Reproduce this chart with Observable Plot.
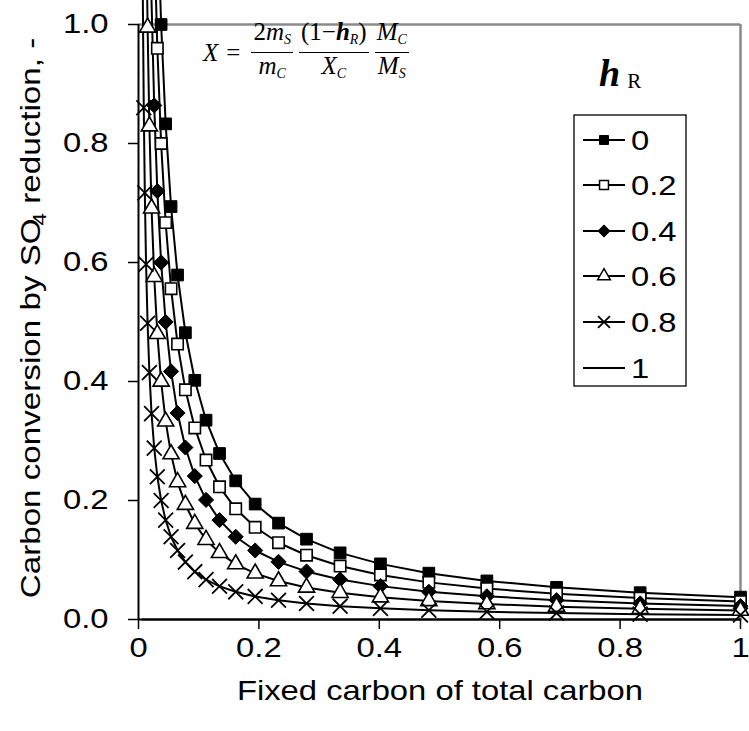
<!DOCTYPE html>
<html><head><meta charset="utf-8">
<script src="https://cdn.jsdelivr.net/npm/d3@7"></script>
<script src="https://cdn.jsdelivr.net/npm/@observablehq/plot@0.6"></script>
<style>
body{margin:0;background:#fff;}
#wrap{position:relative;width:749px;height:731px;overflow:hidden;background:#fff;}
#formula{position:absolute;left:203px;top:19px;font-family:"Liberation Serif","Times New Roman",serif;font-style:italic;font-size:25px;display:flex;align-items:center;color:#000;}
#formula .frac{display:inline-flex;flex-direction:column;align-items:center;margin:0 3px;}
#formula .num{border-bottom:1.4px solid #000;padding:0 2px;line-height:25px;}
#formula .den{line-height:25px;}
#formula sub{font-size:14px;vertical-align:-4px;}
#formula .up{font-style:normal;}
</style></head><body><div id="wrap"></div>
<script>
// Fixed carbon of total carbon (x values)
const fixedCarbon = [0.00607,0.00728,0.00874,0.01048,0.01258,0.0151,0.0181,0.0217,0.0261,0.0313,0.0376,0.0451,0.0541,0.0649,0.0779,0.0935,0.1122,0.1346,0.1615,0.1938,0.2326,0.2791,0.3349,0.4019,0.4823,0.5787,0.6944,0.8333,1];
// Carbon conversion by SO4 reduction for each eta_R
const etaLabels = ["0","0.2","0.4","0.6","0.8","1"];
const conv0  = [null,null,null,null,null,null,null,null,null,1.2,1.0,0.833,0.694,0.579,0.482,0.402,0.335,0.279,0.233,0.194,0.162,0.135,0.112,0.0935,0.0779,0.0649,0.0541,0.0451,0.0376];
const conv02 = [null,null,null,null,null,null,null,null,1.152,0.96,0.8,0.667,0.556,0.463,0.386,0.322,0.268,0.223,0.186,0.155,0.129,0.108,0.0898,0.0748,0.0624,0.052,0.0433,0.0361,0.0301];
const conv04 = [null,null,null,null,null,null,1.244,1.037,0.864,0.72,0.6,0.5,0.417,0.347,0.289,0.241,0.201,0.167,0.139,0.116,0.0969,0.0808,0.0673,0.0561,0.0467,0.039,0.0325,0.0271,0.0226];
const conv06 = [null,null,null,null,1.194,0.995,0.829,0.691,0.576,0.48,0.4,0.333,0.278,0.231,0.193,0.161,0.134,0.112,0.0931,0.0776,0.0646,0.0539,0.0449,0.0374,0.0311,0.0259,0.0216,0.018,0.015];
const conv08 = [1.238,1.032,0.86,0.717,0.597,0.498,0.415,0.346,0.288,0.24,0.2,0.167,0.139,0.116,0.0965,0.0804,0.067,0.0558,0.0465,0.0388,0.0323,0.0269,0.0224,0.0187,0.0156,0.013,0.0108,0.009,0.0075];
const conv1  = [0,0,0,0,0,0,0,0,0,0,0,0,0,0,0,0,0,0,0,0,0,0,0,0,0,0,0,0,0];
const xTicks = [0,0.2,0.4,0.6,0.8,1];
const yTicks = [0,0.2,0.4,0.6,0.8,1.0];

const seriesVals = [conv0, conv02, conv04, conv06, conv08, conv1];
const rows = [];
seriesVals.forEach((arr, s) => arr.forEach((v, i) => { if (v != null) rows.push({fc: fixedCarbon[i], conv: v, eta: etaLabels[s]}); }));
const shown = rows.filter(d => d.conv <= 1.0001);
const bySeries = k => shown.filter(d => d.eta === k);

const FONT = "Arial, 'Liberation Sans', Helvetica, sans-serif";
const STRETCH = 1.17;

const chart = Plot.plot({
  width: 749, height: 731,
  marginLeft: 138, marginRight: 9, marginTop: 24, marginBottom: 112,
  style: {fontFamily: FONT, color: "#000", background: "white", overflow: "visible"},
  x: {domain: [0, 1]},
  y: {domain: [0, 1]},
  marks: [
    Plot.ruleY([1], {stroke: "#8a8a8a", strokeWidth: 2.5}),
    Plot.ruleX([1], {stroke: "#8a8a8a", strokeWidth: 2.5}),
    Plot.axisX({ticks: xTicks, tickSize: 10, tickPadding: 8, tickFormat: d => String(d), label: null, fontSize: 28, strokeWidth: 1.5}),
    Plot.axisY({ticks: yTicks, tickSize: 10, tickPadding: 20, tickFormat: d3.format(".1f"), label: null, fontSize: 28, strokeWidth: 1.5}),
    Plot.ruleX([0], {stroke: "#000", strokeWidth: 2}),
    Plot.ruleY([0], {stroke: "#000", strokeWidth: 2}),
    Plot.line(rows, {x: "fc", y: "conv", z: "eta", stroke: "#000", strokeWidth: 2}),
    Plot.dot(bySeries("0"), {x: "fc", y: "conv", symbol: "square", r: 6.6, fill: "#000", stroke: "#000", strokeWidth: 1}),
    Plot.dot(bySeries("0.2"), {x: "fc", y: "conv", symbol: "square", r: 6.4, fill: "#fff", stroke: "#000", strokeWidth: 1.6}),
    Plot.dot(bySeries("0.4"), {x: "fc", y: "conv", symbol: "diamond2", r: 6.8, fill: "#000", stroke: "#000", strokeWidth: 1}),
    Plot.dot(bySeries("0.6"), {x: "fc", y: "conv", symbol: "triangle", r: 6.0, fill: "#fff", stroke: "#000", strokeWidth: 1.6}),
    Plot.dot(bySeries("0.8"), {x: "fc", y: "conv", symbol: "times", r: 6.8, stroke: "#000", strokeWidth: 1.8})
  ]
});
const wrap = document.getElementById("wrap");
wrap.appendChild(chart);
const svg = d3.select(chart);

// axis titles
svg.append("text").attr("x", 440).attr("y", 700).attr("text-anchor", "middle")
  .attr("font-family", FONT).attr("font-size", 28).attr("fill", "#000")
  .text("Fixed carbon of total carbon");
const yt = svg.append("text").attr("transform", "translate(40,318) rotate(-90)").attr("text-anchor", "middle")
  .attr("font-family", FONT).attr("font-size", 28).attr("fill", "#000");
yt.append("tspan").text("Carbon conversion by SO");
yt.append("tspan").attr("font-size", 19).attr("dy", 6).attr("dx", -6).text("4");
yt.append("tspan").attr("dy", -6).text(" reduction, -");

// stretch sans text horizontally like the reference
svg.selectAll("text").each(function() {
  const L = this.getComputedTextLength();
  if (L > 0) { this.setAttribute("textLength", (L * STRETCH).toFixed(1)); this.setAttribute("lengthAdjust", "spacingAndGlyphs"); }
});

// legend
const lg = svg.append("g").attr("text-anchor", "start");
lg.append("rect").attr("x", 574).attr("y", 115).attr("width", 112).attr("height", 271)
  .attr("fill", "#fff").attr("stroke", "#000").attr("stroke-width", 1.3);
const rowY = [140, 185, 231, 276, 322, 368];
const legSym = [
  {t: d3.symbolSquare, s: 80, fill: "#000", sw: 1},
  {t: d3.symbolSquare, s: 80, fill: "#fff", sw: 1.5},
  {t: d3.symbolDiamond2, s: 95, fill: "#000", sw: 1},
  {t: d3.symbolTriangle, s: 70, fill: "#fff", sw: 1.5},
  {t: d3.symbolTimes, s: 95, fill: "none", sw: 1.8},
  null
];
etaLabels.forEach((lab, i) => {
  const y = rowY[i];
  lg.append("line").attr("x1", 583).attr("x2", 625).attr("y1", y).attr("y2", y).attr("stroke", "#000").attr("stroke-width", 2);
  const sy = legSym[i];
  if (sy) lg.append("path").attr("d", d3.symbol(sy.t, sy.s)()).attr("transform", `translate(604,${y})`)
    .attr("fill", sy.fill).attr("stroke", "#000").attr("stroke-width", sy.sw);
  lg.append("text").attr("text-anchor", "start").attr("transform", `translate(631,${y + 10}) scale(${STRETCH},1)`)
    .attr("font-family", FONT).attr("font-size", 28).attr("fill", "#000").text(lab);
});
// legend title eta_R (rendered as in the picture)
const lt = svg.append("text").attr("text-anchor", "start").attr("x", 599).attr("y", 86).attr("font-family", "'Liberation Serif','Times New Roman',serif").attr("fill", "#000");
lt.append("tspan").attr("font-size", 38).attr("font-weight", "bold").attr("font-style", "italic").text("h");
lt.append("tspan").attr("font-size", 21).attr("dx", 7).attr("dy", 2).text("R");

// formula overlay
const f = document.createElement("div");
f.id = "formula";
f.innerHTML = `<span>X</span><span class="up" style="margin:0 8px">=</span>
<span class="frac"><span class="num"><span class="up">2</span>m<sub>S</sub></span><span class="den">m<sub>C</sub></span></span>
<span class="frac"><span class="num"><span class="up">(1&minus;</span><b>h</b><sub>R</sub><span class="up">)</span></span><span class="den">X<sub>C</sub></span></span>
<span class="frac"><span class="num">M<sub>C</sub></span><span class="den">M<sub>S</sub></span></span>`;
wrap.appendChild(f);
</script></body></html>
